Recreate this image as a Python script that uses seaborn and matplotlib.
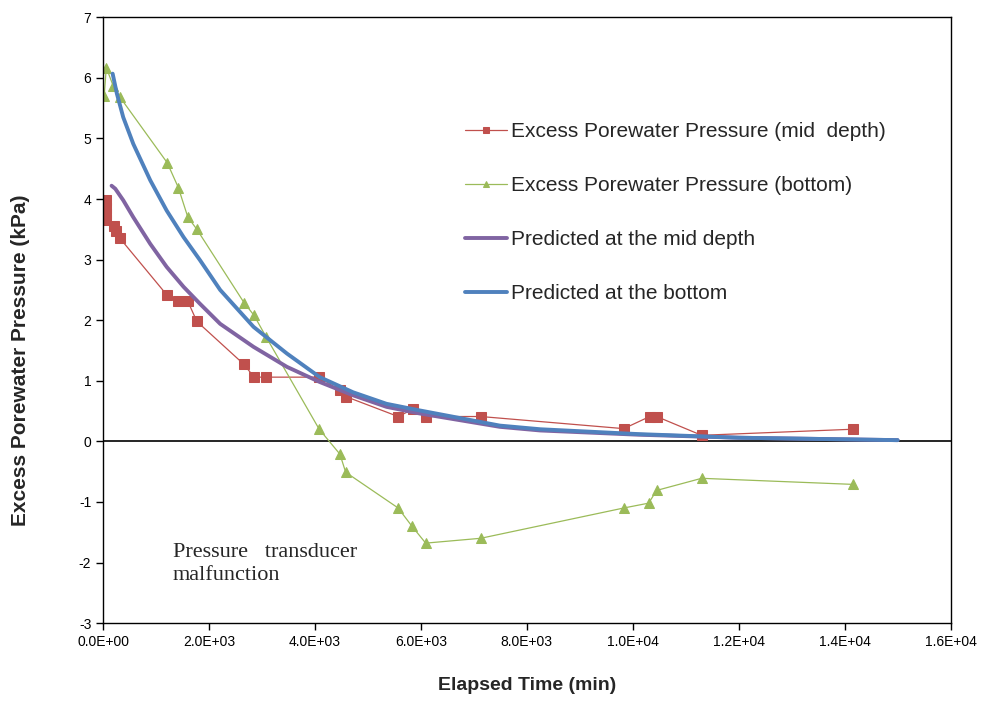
import numpy as np
import pandas as pd
import matplotlib
matplotlib.use('Agg')
import matplotlib.pyplot as plt
import seaborn as sns
from matplotlib.ticker import FuncFormatter

# Données (temps en min, pression en kPa)
t_mid = [60, 60, 50, 50, 210, 250, 320, 1210, 1420, 1600, 1770, 2660, 2850, 3080,
         4080, 4470, 4580, 5570, 5850, 6090, 7130, 9830, 10320, 10450, 11300, 14150]
p_mid = [3.98, 3.86, 3.76, 3.65, 3.56, 3.48, 3.35, 2.41, 2.31, 2.31, 1.98, 1.27, 1.06, 1.06,
         1.06, 0.84, 0.74, 0.41, 0.53, 0.41, 0.41, 0.21, 0.41, 0.41, 0.10, 0.20]

t_bot = [20, 60, 190, 320, 1210, 1420, 1600, 1770, 2660, 2850, 3080,
         4080, 4470, 4580, 5570, 5830, 6090, 7130, 9830, 10300, 10450, 11300, 14150]
p_bot = [5.70, 6.17, 5.87, 5.68, 4.60, 4.19, 3.70, 3.50, 2.29, 2.08, 1.72,
         0.20, -0.21, -0.51, -1.10, -1.40, -1.68, -1.60, -1.10, -1.02, -0.81, -0.61, -0.71]

t_pred_mid = [160, 230, 380, 570, 890, 1200, 1520, 1830, 2210, 2840, 3470, 4090, 4720,
              5350, 5980, 7490, 8250, 10100, 12000, 15000]
p_pred_mid = [4.22, 4.17, 3.98, 3.70, 3.26, 2.88, 2.55, 2.27, 1.94, 1.56, 1.23, 0.98, 0.76,
              0.57, 0.46, 0.24, 0.18, 0.11, 0.06, 0.02]

t_pred_bot = [180, 260, 380, 570, 890, 1200, 1520, 1830, 2210, 2840, 3470, 4090, 4720,
              5350, 5980, 7490, 8250, 10100, 12000, 15000]
p_pred_bot = [6.07, 5.74, 5.35, 4.91, 4.31, 3.81, 3.37, 2.99, 2.50, 1.89, 1.45, 1.06, 0.81,
              0.62, 0.51, 0.26, 0.20, 0.12, 0.06, 0.02]

x_ticks = np.arange(0, 16001, 2000)
y_ticks = np.arange(-3, 8, 1)

sns.set_style('white')
plt.rcParams['font.family'] = ['Liberation Sans', 'DejaVu Sans']
plt.rcParams['axes.unicode_minus'] = False

fig = plt.figure(figsize=(9.82, 7.22), dpi=100)
ax = fig.add_axes([0.105, 0.137, 0.863, 0.839])

sns.lineplot(x=t_mid, y=p_mid, ax=ax, color='#C0504D', lw=0.9, marker='s',
             markersize=7, markeredgecolor='#C0504D', sort=False, estimator=None,
             label='Excess Porewater Pressure (mid  depth)')
sns.lineplot(x=t_bot, y=p_bot, ax=ax, color='#9BBB59', lw=0.9, marker='^',
             markersize=7, markeredgecolor='#9BBB59', sort=False, estimator=None,
             label='Excess Porewater Pressure (bottom)')
sns.lineplot(x=t_pred_mid, y=p_pred_mid, ax=ax, color='#8064A2', lw=2.8,
             sort=False, estimator=None, label='Predicted at the mid depth')
sns.lineplot(x=t_pred_bot, y=p_pred_bot, ax=ax, color='#4F81BD', lw=2.8,
             sort=False, estimator=None, label='Predicted at the bottom')

ax.axhline(0, color='black', lw=1.2, zorder=1)

ax.set_xlim(0, 16000)
ax.set_ylim(-3, 7)
ax.set_xticks(x_ticks)
ax.set_yticks(y_ticks)
ax.xaxis.set_major_formatter(FuncFormatter(lambda v, p: f'{v:.1E}'))
for s in ax.spines.values():
    s.set_color('black')
    s.set_linewidth(1.0)
ax.tick_params(axis='both', direction='out', length=5, width=1, color='black',
               labelsize=10, labelcolor='black', bottom=True, left=True)

ax.set_xlabel('Elapsed Time (min)', fontsize=14, fontweight='bold')
ax.set_ylabel('Excess Porewater Pressure (kPa)', fontsize=15, fontweight='bold')
ax.xaxis.set_label_coords(0.5, -0.089)
ax.yaxis.set_label_coords(-0.086, 0.434)

ax.text(0.082, 0.133, 'Pressure   transducer\nmalfunction', transform=ax.transAxes,
        fontsize=16, family=['Liberation Serif', 'DejaVu Serif'], va='top', ha='left',
        linespacing=1.3)

ax.legend(loc='upper left', bbox_to_anchor=(0.405, 0.858), frameon=False, fontsize=15,
          handlelength=2.0, labelspacing=1.68, handletextpad=0.2, markerscale=0.6,
          borderpad=0.4)

fig.savefig('out.png', dpi=100)
